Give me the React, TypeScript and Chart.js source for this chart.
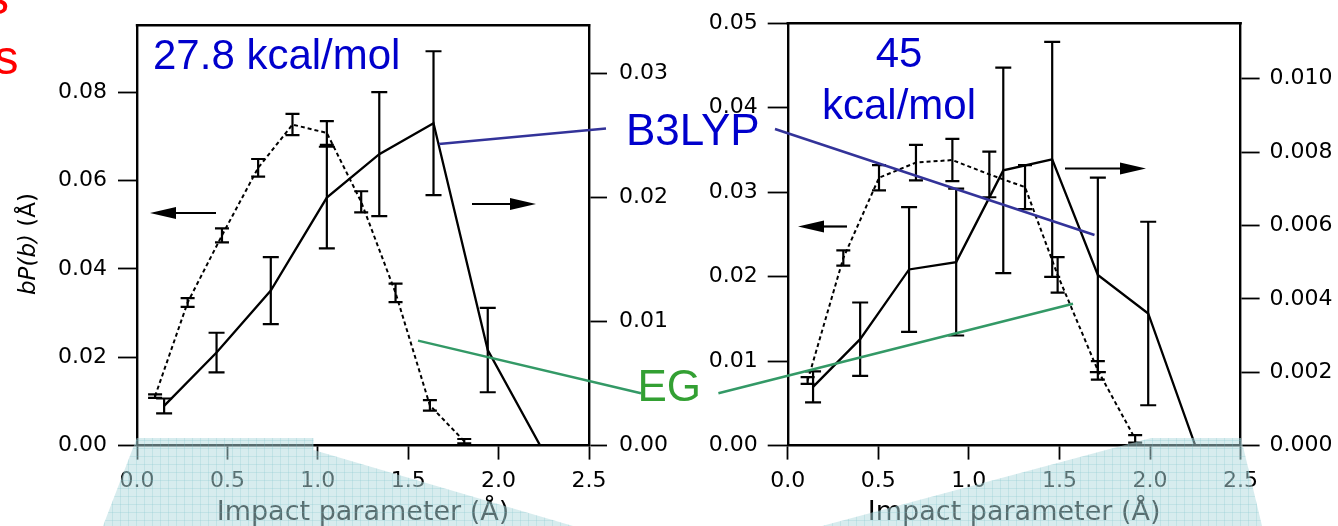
import React, { useEffect, useRef } from 'react';
import { Chart, registerables } from 'chart.js';

Chart.register(...registerables);

const W = 1338;
const H = 526;

// ---------- shared axis ticks ----------
const xTicks = [0, 0.5, 1.0, 1.5, 2.0, 2.5];

// ---------- Panel A : 27.8 kcal/mol ----------
const egXA = [0.10, 0.28, 0.47, 0.67, 0.86, 1.05, 1.24, 1.43, 1.62, 1.81];
const egYA = [0.0112, 0.0324, 0.0476, 0.0629, 0.0727, 0.0708, 0.0552, 0.0346, 0.0091, 0.0010];
const egErrA = [0.0004, 0.0010, 0.0016, 0.0020, 0.0024, 0.0027, 0.0024, 0.0021, 0.0012, 0.0005];
const b3XA = [0.15, 0.44, 0.74, 1.05, 1.34, 1.64, 1.94, 2.23];
const b3YA = [0.0032, 0.0075, 0.0125, 0.0200, 0.0235, 0.0260, 0.0077, 0];
const b3ErrA = [0.0006, 0.0016, 0.0027, 0.0041, 0.0050, 0.0058, 0.0034, 0];
const leftTicksA = [0, 0.02, 0.04, 0.06, 0.08];
const rightTicksA = [0, 0.01, 0.02, 0.03];
const leftMaxA = 0.0952;
const rightMaxA = 0.0339;

// ---------- Panel B : 45 kcal/mol ----------
const egXB = [0.11, 0.307, 0.504, 0.708, 0.909, 1.113, 1.31, 1.49, 1.712, 1.918];
const egYB = [0.0077, 0.0222, 0.0317, 0.0335, 0.0338, 0.0321, 0.0306, 0.0202, 0.0089, 0.0008];
const egErrB = [0.0004, 0.0009, 0.0015, 0.0021, 0.0025, 0.0027, 0.0026, 0.0021, 0.0011, 0.00045];
const b3XB = [0.14, 0.40, 0.67, 0.93, 1.19, 1.46, 1.712, 1.99, 2.25];
const b3YB = [0.0016, 0.0029, 0.0048, 0.0050, 0.0075, 0.0078, 0.00465, 0.0036, 0];
const b3ErrB = [0.00042, 0.0010, 0.0017, 0.0020, 0.0028, 0.0032, 0.00265, 0.0025, 0];
const leftTicksB = [0, 0.01, 0.02, 0.03, 0.04, 0.05];
const rightTicksB = [0, 0.002, 0.004, 0.006, 0.008, 0.010];
const leftMaxB = 0.05;
const rightMaxB = 0.01151;

const TICK_FONT = { family: '"DejaVu Sans"', size: 22 };
const ANNOT_FONT = '"Liberation Sans", Arial, sans-serif';

type Panel = {
  egX: number[]; egY: number[]; egErr: number[];
  b3X: number[]; b3Y: number[]; b3Err: number[];
  leftTicks: number[]; rightTicks: number[];
  leftMax: number; rightMax: number;
  leftDec: number; rightDec: number;
  pad: { left: number; right: number; top: number; bottom: number };
  leftW: number; rightW: number;
  leftTickLen: number; leftPad: number; rightTickLen: number; rightPad: number;
  yTitle: boolean;
  labels: { text: string; x: number; y: number; align: CanvasTextAlign }[];
  arrows: { from: number; to: number; y: number }[];
};

const panelA: Panel = {
  egX: egXA, egY: egYA, egErr: egErrA,
  b3X: b3XA, b3Y: b3YA, b3Err: b3ErrA,
  leftTicks: leftTicksA, rightTicks: rightTicksA,
  leftMax: leftMaxA, rightMax: rightMaxA,
  leftDec: 2, rightDec: 2,
  pad: { left: 0, right: 649, top: 16.8, bottom: 0 },
  leftW: 137, rightW: 100,
  leftTickLen: 19, leftPad: 11, rightTickLen: 18, rightPad: 12,
  yTitle: true,
  labels: [{ text: '27.8 kcal/mol', x: 153, y: 68.5, align: 'left' }],
  arrows: [
    { from: 216, to: 150, y: 213 },
    { from: 472, to: 536, y: 204 },
  ],
};

const panelB: Panel = {
  egX: egXB, egY: egYB, egErr: egErrB,
  b3X: b3XB, b3Y: b3YB, b3Err: b3ErrB,
  leftTicks: leftTicksB, rightTicks: rightTicksB,
  leftMax: leftMaxB, rightMax: rightMaxB,
  leftDec: 2, rightDec: 3,
  pad: { left: 687.7, right: 0.4, top: 16.8, bottom: 0 },
  leftW: 100, rightW: 97,
  leftTickLen: 20, leftPad: 10, rightTickLen: 19, rightPad: 10,
  yTitle: false,
  labels: [
    { text: '45', x: 899, y: 67, align: 'center' },
    { text: 'kcal/mol', x: 899, y: 119, align: 'center' },
  ],
  arrows: [
    { from: 847, to: 798, y: 226.5 },
    { from: 1065, to: 1146, y: 168.5 },
  ],
};

const errorBarPlugin = {
  id: 'errorBars',
  afterDatasetsDraw(chart: any) {
    const ctx = chart.ctx;
    chart.data.datasets.forEach((ds: any, di: number) => {
      const errs: number[] | undefined = ds.errors;
      if (!errs) return;
      const meta = chart.getDatasetMeta(di);
      const ys = chart.scales[ds.yAxisID];
      const cap = ds.capHalf || 7;
      ctx.save();
      ctx.strokeStyle = '#000';
      ctx.lineWidth = 2.2;
      ctx.setLineDash([]);
      meta.data.forEach((pt: any, i: number) => {
        const e = errs[i];
        if (!e) return;
        const v = ds.data[i].y;
        const x = pt.x;
        const yt = ys.getPixelForValue(v + e);
        const yb = ys.getPixelForValue(v - e);
        ctx.beginPath();
        ctx.moveTo(x, yt); ctx.lineTo(x, yb);
        ctx.moveTo(x - cap, yt); ctx.lineTo(x + cap, yt);
        ctx.moveTo(x - cap, yb); ctx.lineTo(x + cap, yb);
        ctx.stroke();
      });
      ctx.restore();
    });
  },
};

const framePlugin = {
  id: 'frameTop',
  afterDraw(chart: any) {
    const { ctx, chartArea: a } = chart;
    ctx.save();
    ctx.strokeStyle = '#000';
    ctx.lineWidth = 2.4;
    ctx.beginPath();
    ctx.moveTo(a.left - 1.2, a.top);
    ctx.lineTo(a.right + 1.2, a.top);
    ctx.stroke();
    ctx.restore();
  },
};

function drawArrow(ctx: CanvasRenderingContext2D, from: number, to: number, y: number) {
  const dir = Math.sign(to - from);
  const hl = 26;
  const hw = 6;
  ctx.save();
  ctx.strokeStyle = '#000';
  ctx.fillStyle = '#000';
  ctx.lineWidth = 2.2;
  ctx.beginPath();
  ctx.moveTo(from, y);
  ctx.lineTo(to - dir * hl, y);
  ctx.stroke();
  ctx.beginPath();
  ctx.moveTo(to, y);
  ctx.lineTo(to - dir * hl, y - hw);
  ctx.lineTo(to - dir * hl, y + hw);
  ctx.closePath();
  ctx.fill();
  ctx.restore();
}

function makeDecorPlugin(p: Panel) {
  return {
    id: 'decor',
    afterDraw(chart: any) {
      const ctx: CanvasRenderingContext2D = chart.ctx;
      p.arrows.forEach((a) => drawArrow(ctx, a.from, a.to, a.y));
      ctx.save();
      ctx.fillStyle = '#0000cc';
      ctx.font = `42px ${ANNOT_FONT}`;
      ctx.textBaseline = 'alphabetic';
      p.labels.forEach((l) => {
        ctx.textAlign = l.align;
        ctx.fillText(l.text, l.x, l.y);
      });
      ctx.restore();
      if (p.yTitle) {
        ctx.save();
        ctx.translate(29, 244);
        ctx.rotate(-Math.PI / 2);
        ctx.fillStyle = '#000';
        ctx.textBaseline = 'middle';
        ctx.textAlign = 'left';
        const f1 = 'italic 23px "DejaVu Sans"';
        const f2 = '23px "DejaVu Sans"';
        ctx.font = f1;
        const w1 = ctx.measureText('bP(b)').width;
        ctx.font = f2;
        const w2 = ctx.measureText(' (Å)').width;
        const x0 = -(w1 + w2) / 2;
        ctx.font = f1;
        ctx.fillText('bP(b)', x0, 0);
        ctx.font = f2;
        ctx.fillText(' (Å)', x0 + w1, 0);
        ctx.restore();
      }
    },
  };
}

function makePattern(ctx: CanvasRenderingContext2D) {
  const off = document.createElement('canvas');
  off.width = 8;
  off.height = 8;
  const o = off.getContext('2d')!;
  o.fillStyle = 'rgba(120,190,200,0.22)';
  o.fillRect(0, 0, 8, 1);
  o.fillRect(0, 0, 1, 8);
  return ctx.createPattern(off, 'repeat');
}

const overlayPlugin = {
  id: 'overlay',
  afterDraw(chart: any) {
    const ctx: CanvasRenderingContext2D = chart.ctx;
    ctx.save();
    ctx.lineCap = 'butt';
    ctx.lineWidth = 2.5;
    // B3LYP pointers
    ctx.strokeStyle = '#333399';
    ctx.beginPath();
    ctx.moveTo(439, 144); ctx.lineTo(606, 128.5);
    ctx.moveTo(775, 129); ctx.lineTo(1094.5, 235);
    ctx.stroke();
    // EG pointers
    ctx.strokeStyle = '#339966';
    ctx.beginPath();
    ctx.moveTo(418, 340.6); ctx.lineTo(641, 393.3);
    ctx.moveTo(718.4, 393.3); ctx.lineTo(1073, 303.7);
    ctx.stroke();
    // labels
    ctx.font = `44px ${ANNOT_FONT}`;
    ctx.textAlign = 'left';
    ctx.textBaseline = 'alphabetic';
    ctx.fillStyle = '#0000cc';
    ctx.fillText('B3LYP', 626, 145);
    ctx.fillStyle = '#33a033';
    ctx.fillText('EG', 637.5, 401);
    // red slide text fragments
    ctx.fillStyle = '#ff0000';
    ctx.font = `48px ${ANNOT_FONT}`;
    ctx.fillText('s', -5.5, 74);
    ctx.fillText('s', -15, 14);
    // translucent cyan overlays
    const polys = [
      [[136.8, 438], [313.5, 438], [313.5, 450], [573, 526], [103, 526]],
      [[1151, 438], [1241, 438], [1262, 526], [822, 526]],
    ];
    const pat = makePattern(ctx);
    polys.forEach((poly) => {
      ctx.beginPath();
      poly.forEach(([x, y], i) => (i === 0 ? ctx.moveTo(x, y) : ctx.lineTo(x, y)));
      ctx.closePath();
      ctx.fillStyle = 'rgba(176,218,222,0.5)';
      ctx.fill();
      if (pat) {
        ctx.fillStyle = pat;
        ctx.fill();
      }
    });
    ctx.restore();
  },
};

function yScale(position: string, max: number, ticks: number[], dec: number, width: number, tickLen: number, pad: number) {
  return {
    type: 'linear',
    position,
    min: 0,
    max,
    afterBuildTicks: (s: any) => { s.ticks = ticks.map((v) => ({ value: v })); },
    afterFit: (s: any) => { s.width = width; },
    ticks: {
      font: TICK_FONT,
      color: '#000',
      padding: pad,
      autoSkip: false,
      callback: (v: any) => Number(v).toFixed(dec),
    },
    grid: {
      display: true,
      drawOnChartArea: false,
      drawTicks: true,
      tickLength: tickLen,
      tickWidth: 1.8,
      tickColor: '#000',
      color: '#000',
    },
    border: { display: true, color: '#000', width: 2.4 },
  };
}

function buildConfig(p: Panel, plugins: any[]) {
  return {
    type: 'line',
    data: {
      datasets: [
        {
          label: 'EG',
          data: p.egX.map((x, i) => ({ x, y: p.egY[i] })),
          yAxisID: 'y',
          borderColor: '#000',
          borderWidth: 2,
          borderDash: [4, 3],
          pointRadius: 0,
          tension: 0,
          fill: false,
          errors: p.egErr,
          capHalf: 7,
        },
        {
          label: 'B3LYP',
          data: p.b3X.map((x, i) => ({ x, y: p.b3Y[i] })),
          yAxisID: 'y2',
          borderColor: '#000',
          borderWidth: 2.3,
          pointRadius: 0,
          tension: 0,
          fill: false,
          errors: p.b3Err,
          capHalf: 8,
        },
      ],
    },
    options: {
      responsive: false,
      animation: false,
      events: [],
      layout: { padding: p.pad },
      plugins: { legend: { display: false }, tooltip: { enabled: false } },
      scales: {
        x: {
          type: 'linear',
          position: 'bottom',
          min: 0,
          max: 2.5,
          afterBuildTicks: (s: any) => { s.ticks = xTicks.map((v) => ({ value: v })); },
          afterFit: (s: any) => { s.height = H - 445.6 - p.pad.bottom; },
          ticks: {
            font: TICK_FONT,
            color: '#000',
            padding: 8.5,
            maxRotation: 0,
            autoSkip: false,
            callback: (v: any) => Number(v).toFixed(1),
          },
          grid: {
            display: true,
            drawOnChartArea: false,
            drawTicks: true,
            tickLength: 14,
            tickWidth: 1.8,
            tickColor: '#000',
            color: '#000',
          },
          border: { display: true, color: '#000', width: 2.4 },
          title: {
            display: true,
            text: 'Impact parameter (Å)',
            color: '#000',
            font: { family: '"DejaVu Sans"', size: 27, lineHeight: 1 },
            padding: { top: 0, bottom: 0 },
          },
        },
        y: yScale('left', p.leftMax, p.leftTicks, p.leftDec, p.leftW, p.leftTickLen, p.leftPad),
        y2: yScale('right', p.rightMax, p.rightTicks, p.rightDec, p.rightW, p.rightTickLen, p.rightPad),
      },
    },
    plugins,
  };
}

export default function App() {
  const ref1 = useRef<HTMLCanvasElement>(null);
  const ref2 = useRef<HTMLCanvasElement>(null);

  useEffect(() => {
    const c1 = new Chart(ref1.current as any, buildConfig(panelA, [errorBarPlugin, framePlugin, makeDecorPlugin(panelA)]) as any);
    const c2 = new Chart(ref2.current as any, buildConfig(panelB, [errorBarPlugin, framePlugin, makeDecorPlugin(panelB), overlayPlugin]) as any);
    return () => {
      c1.destroy();
      c2.destroy();
    };
  }, []);

  const cs: React.CSSProperties = { position: 'absolute', left: 0, top: 0, width: W, height: H };
  return (
    <div style={{ position: 'fixed', left: 0, top: 0, width: W, height: H, background: '#fff', overflow: 'hidden' }}>
      <canvas ref={ref1} width={W} height={H} style={cs} />
      <canvas ref={ref2} width={W} height={H} style={cs} />
    </div>
  );
}
